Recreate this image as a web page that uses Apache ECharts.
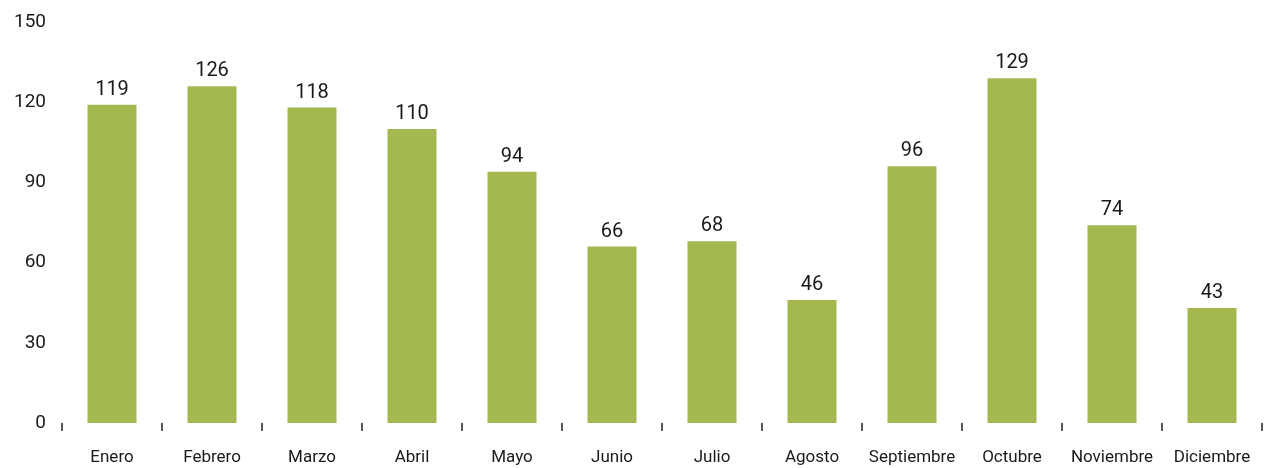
<!DOCTYPE html>
<html><head><meta charset="utf-8">
<script src="https://cdn.jsdelivr.net/npm/echarts@6/dist/echarts.min.js"></script>
<style>html,body{margin:0;padding:0;background:#fff}#c{width:1267px;height:468px}</style>
</head><body><div id="c"></div>
<script>
const categories = ["Enero","Febrero","Marzo","Abril","Mayo","Junio","Julio","Agosto","Septiembre","Octubre","Noviembre","Diciembre"];
const values = [119,126,118,110,94,66,68,46,96,129,74,43];
const yTicks = [0,30,60,90,120,150];

const chart = echarts.init(document.getElementById('c'), null, {renderer:'canvas'});
const font = "Roboto, 'DejaVu Sans Condensed', sans-serif";
chart.setOption({
  animation:false,
  grid:{left:62,right:5,top:22,bottom:45,containLabel:false},
  xAxis:{
    type:'category', data:categories,
    axisLine:{show:false},
    axisTick:{show:true,length:8,lineStyle:{color:'#222',width:1.5}},
    axisLabel:{color:'#1a1a1a',fontSize:17,fontFamily:font,margin:26,interval:0}
  },
  yAxis:{
    type:'value', min:yTicks[0], max:yTicks[yTicks.length-1], interval:30,
    axisLine:{show:false}, axisTick:{show:false}, splitLine:{show:false},
    axisLabel:{color:'#1a1a1a',fontSize:19,fontFamily:font,margin:16}
  },
  series:[{
    type:'bar', data:values, barWidth:49, barCategoryGap:'51%',
    itemStyle:{color:'#a4b850'},
    label:{show:true,position:'top',distance:5,color:'#1a1a1a',fontSize:20,fontFamily:font}
  }]
});
</script></body></html>
